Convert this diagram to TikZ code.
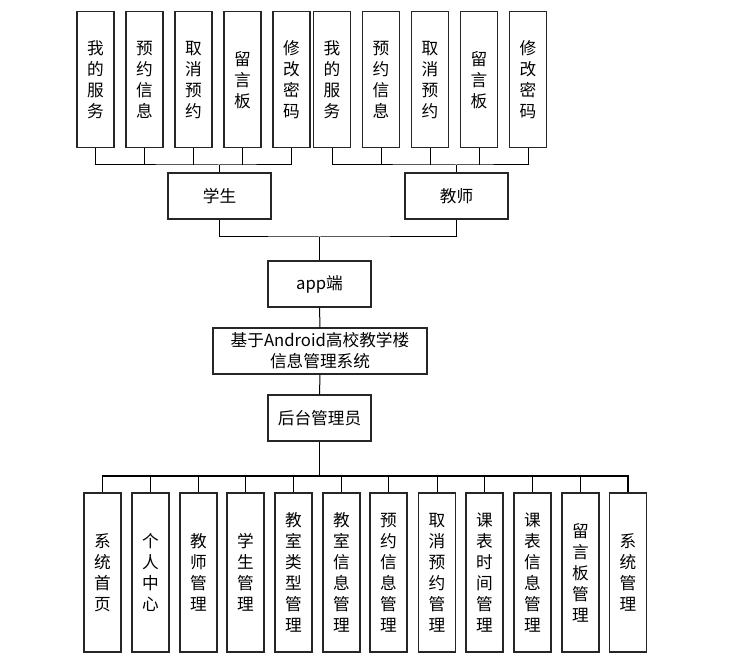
\documentclass[tikz,border=0pt]{standalone}
\usepackage{fontspec}
\setmainfont{Noto Sans CJK SC}
\usepackage{tikz}
\usetikzlibrary{positioning,calc}

\begin{document}
\begin{tikzpicture}[
  x=0.75pt, y=-0.75pt,
  every node/.style={font=\fontsize{12.5pt}{15.75pt}\selectfont, inner sep=0pt},
  vbox/.style={draw=black!85, line width=0.8pt, minimum width=27.75pt, minimum height=#1, align=center},
  hbox/.style={draw=black!85, line width=0.8pt, minimum width=#1, minimum height=34.5pt, align=center},
  link/.style={line width=0.75pt},
  trunk/.style={line width=1.2pt}
]
\useasboundingbox (0,0) rectangle (729,659);

% student functions
\node[vbox=102pt] (s1) at (95.5,79.7)  {我\\的\\服\\务};
\node[vbox=102pt] (s2) at (144.5,79.7) {预\\约\\信\\息};
\node[vbox=102pt] (s3) at (193.5,79.7) {取\\消\\预\\约};
\node[vbox=102pt] (s4) at (242.5,79.7) {留\\言\\板};
\node[vbox=102pt] (s5) at (291.5,79.7) {修\\改\\密\\码};
% teacher functions
\node[vbox=102pt] (t1) at (332,79.7) {我\\的\\服\\务};
\node[vbox=102pt] (t2) at (381,79.7) {预\\约\\信\\息};
\node[vbox=102pt] (t3) at (430,79.7) {取\\消\\预\\约};
\node[vbox=102pt] (t4) at (479,79.7) {留\\言\\板};
\node[vbox=102pt] (t5) at (528,79.7) {修\\改\\密\\码};

\node[hbox=77.25pt] (stu) at (219.5,196) {学生};
\node[hbox=77.25pt] (tea) at (456.5,196) {教师};
\node[hbox=77.25pt] (app) at (319.5,284) {app端};
\node[hbox=160.5pt] (sys) at (320,351)   {基于Android高校教学楼\\信息管理系统};
\node[hbox=77.25pt] (adm) at (319.5,418) {后台管理员};

% admin functions
\node[vbox=119.25pt] (a1)  at (102.5,572.5) {系\\统\\首\\页};
\node[vbox=119.25pt] (a2)  at (150.5,572.5) {个\\人\\中\\心};
\node[vbox=119.25pt] (a3)  at (198.5,572.5) {教\\师\\管\\理};
\node[vbox=119.25pt] (a4)  at (245.5,572.5) {学\\生\\管\\理};
\node[vbox=119.25pt] (a5)  at (293.5,572.5) {教\\室\\类\\型\\管\\理};
\node[vbox=119.25pt] (a6)  at (341.5,572.5) {教\\室\\信\\息\\管\\理};
\node[vbox=119.25pt] (a7)  at (388.5,572.5) {预\\约\\信\\息\\管\\理};
\node[vbox=119.25pt] (a8)  at (437,572.5)   {取\\消\\预\\约\\管\\理};
\node[vbox=119.25pt] (a9)  at (484.5,572.5) {课\\表\\时\\间\\管\\理};
\node[vbox=119.25pt] (a10) at (532.5,572.5) {课\\表\\信\\息\\管\\理};
\node[vbox=119.25pt] (a11) at (580.5,572.5) {留\\言\\板\\管\\理};
\node[vbox=119.25pt] (a12) at (628,572.5)   {系\\统\\管\\理};

\coordinate (stubus) at (219.5,165);
\coordinate (teabus) at (456.5,165);
\coordinate (appbus) at (319.5,237);
\coordinate (admbus) at (319.5,476);

\draw[link] (s1.south) |- (stubus) -| (s5.south);
\draw[link] (s2.south) -- (s2.south |- stubus);
\draw[link] (s3.south) -- (s3.south |- stubus);
\draw[link] (s4.south) -- (s4.south |- stubus);
\draw[link] (stubus) -- (stu.north);

\draw[link] (t1.south) |- (teabus) -| (t5.south);
\draw[link] (t2.south) -- (t2.south |- teabus);
\draw[link] (t3.south) -- (t3.south |- teabus);
\draw[link] (t4.south) -- (t4.south |- teabus);
\draw[link] (teabus) -- (tea.north);

\draw[link] (stu.south) |- (appbus) -| (tea.south);
\draw[trunk] (appbus) -- (app.north);
\draw[link] (app) -- (sys);
\draw[link] (sys) -- (adm);
\draw[trunk] (adm.south) -- (admbus);

\draw[trunk] (a1.north) |- (admbus) -| (a12.north);
\draw[link] (a2.north) -- (a2.north |- admbus);
\draw[link] (a3.north) -- (a3.north |- admbus);
\draw[link] (a4.north) -- (a4.north |- admbus);
\draw[link] (a5.north) -- (a5.north |- admbus);
\draw[link] (a6.north) -- (a6.north |- admbus);
\draw[link] (a7.north) -- (a7.north |- admbus);
\draw[link] (a8.north) -- (a8.north |- admbus);
\draw[link] (a9.north) -- (a9.north |- admbus);
\draw[link] (a10.north) -- (a10.north |- admbus);
\draw[link] (a11.north) -- (a11.north |- admbus);
\end{tikzpicture}
\end{document}
